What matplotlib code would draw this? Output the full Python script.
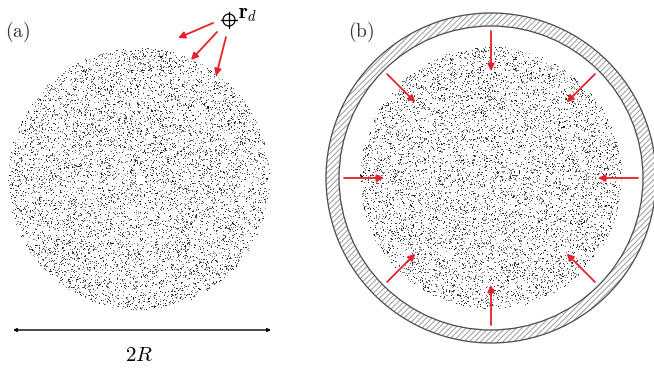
#import used libraries
import numpy as np
import matplotlib
matplotlib.use("Agg")
from matplotlib import pyplot as plt
from matplotlib.patches import Annulus, Circle

plt.rcParams['mathtext.fontset'] = 'cm'
plt.rcParams['hatch.linewidth'] = 0.7

# geometry of the sketch, in pixels of the 654x373 picture
cloud_centers = [(139, 179), (491, 178)]   # centres of the two particle clouds
cloud_radius = 131
n_particles = 8000
wall_inner, wall_outer = 152, 165            # container wall of panel (b)
panel_labels = ['(a)', '(b)']
label_pos = [(18, 32), (361, 32)]

# point source r_d of panel (a) and its three rays (start, end)
source_pos = (229, 20)
source_rays = [((213, 23), (178, 38)),
               ((217, 32), (191, 60)),
               ((226, 37), (216, 76))]

# inward arrows of panel (b): angles (deg) and radii (start, end)
inward_angles = [0, 45, 90, 135, 180, 225, 270, 315]
inward_r = (147, 107)

red = '#e5212b'

fig = plt.figure(figsize=(6.54, 3.73), dpi=100)
ax = fig.add_axes([0, 0, 1, 1])
ax.set_xlim(0, 654)
ax.set_ylim(373, 0)
ax.set_aspect('equal')
ax.axis('off')

#particle texture: uniform positions in a disk (seeded, only a texture)
rng = np.random.default_rng(7)
for cx, cy in cloud_centers:
    r = cloud_radius * np.sqrt(rng.random(n_particles))
    t = 2 * np.pi * rng.random(n_particles)
    grey = rng.uniform(0.05, 0.65, n_particles)
    cols = np.stack([grey, grey, grey], axis=1)
    ax.scatter(cx + r * np.cos(t), cy + r * np.sin(t), s=0.55, marker='s',
               c=cols, linewidths=0, zorder=2)

#container wall of (b)
cx, cy = cloud_centers[1]
wall = Annulus((cx, cy), wall_outer, wall_outer - wall_inner, facecolor='white',
               edgecolor='#999999', hatch='//////', linewidth=0, zorder=1)
ax.add_patch(wall)
for rad in (wall_inner, wall_outer):
    ax.add_patch(Circle((cx, cy), rad, fill=False, edgecolor='#4a4a4a', lw=0.9, zorder=3))

#inward arrows
for a in inward_angles:
    c, s = np.cos(np.radians(a)), np.sin(np.radians(a))
    ax.annotate('', xy=(cx + inward_r[1] * c, cy - inward_r[1] * s),
                xytext=(cx + inward_r[0] * c, cy - inward_r[0] * s),
                arrowprops=dict(arrowstyle='-|>', color=red, lw=1.3,
                                mutation_scale=10, shrinkA=0, shrinkB=0), zorder=4)

#point source and rays of (a)
sx, sy = source_pos
ax.add_patch(Circle((sx, sy), 6, fill=False, edgecolor='black', lw=0.9, zorder=4))
ax.plot([sx - 8, sx + 8], [sy, sy], color='black', lw=0.9, zorder=4)
ax.plot([sx, sx], [sy - 8, sy + 8], color='black', lw=0.9, zorder=4)
ax.text(sx + 9, sy - 6, r'$\mathbf{r}_d$', fontsize=15, ha='left', va='center')
for start, end in source_rays:
    ax.annotate('', xy=end, xytext=start,
                arrowprops=dict(arrowstyle='-|>', color=red, lw=1.3,
                                mutation_scale=10, shrinkA=0, shrinkB=0), zorder=4)

#diameter arrow
ax.annotate('', xy=(271, 330), xytext=(13, 330),
            arrowprops=dict(arrowstyle='<|-|>', color='black', lw=1.0,
                            mutation_scale=5, shrinkA=0, shrinkB=0))
ax.text(139, 355, r'$2R$', fontsize=15, ha='center', va='center')

for lab, (x, y) in zip(panel_labels, label_pos):
    ax.text(x, y, r'$\mathrm{' + lab + '}$', fontsize=14, ha='center', va='center',
            color='#333333')

plt.savefig('out.png', dpi=100)
